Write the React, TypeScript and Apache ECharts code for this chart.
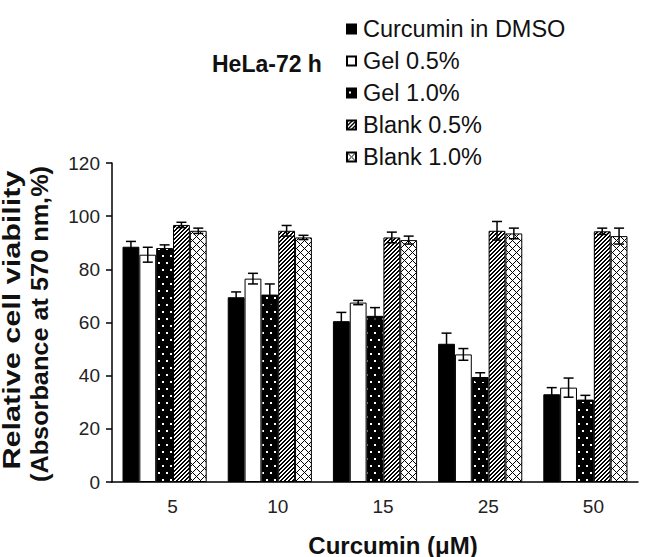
import React, { useEffect, useRef } from "react";
import * as echarts from "echarts";

const categories = ["5", "10", "15", "25", "50"];
const seriesNames = ["Curcumin in DMSO", "Gel 0.5%", "Gel 1.0%", "Blank 0.5%", "Blank 1.0%"];
const dmso = [88.5, 69.5, 60.5, 52, 33];
const dmsoErr = [2, 2, 3.3, 4, 2.5];
const gel05 = [85.5, 76.5, 67.5, 48, 35.5];
const gel05Err = [2.8, 2, 0.8, 2.2, 3.6];
const gel10 = [88, 70.5, 62.5, 39.5, 31];
const gel10Err = [1.2, 4, 3.1, 1.6, 1.6];
const blank05 = [96.7, 94.5, 92, 94.5, 94.3];
const blank05Err = [1, 2, 2, 3.5, 1.2];
const blank10 = [94.5, 92, 91, 93.5, 92.5];
const blank10Err = [1, 0.8, 1.5, 2, 3];
const yTicks = [0, 20, 40, 60, 80, 100, 120];

function makeTile(w: number, h: number, bg: string, fg: string, test: (x: number, y: number) => boolean) {
  const c = document.createElement("canvas");
  c.width = w;
  c.height = h;
  const ctx = c.getContext("2d")!;
  ctx.fillStyle = bg;
  ctx.fillRect(0, 0, w, h);
  ctx.fillStyle = fg;
  for (let x = 0; x < w; x++) {
    for (let y = 0; y < h; y++) {
      if (test(x, y)) ctx.fillRect(x, y, 1, 1);
    }
  }
  return { image: c, repeat: "repeat", imageWidth: w, imageHeight: h } as any;
}

export default function App() {
  const ref = useRef<HTMLDivElement>(null);
  useEffect(() => {
    document.body.style.margin = "0";
    const chart = echarts.init(ref.current!, null, { renderer: "svg" });
    const dots = makeTile(8, 14, "#000", "#fff", (x, y) =>
      ((x === 2 || x === 3) && (y === 3 || y === 4)) || ((x === 6 || x === 7) && (y === 10 || y === 11))
    );
    const hatch = makeTile(4, 4, "#fff", "#000", (x, y) => (x + y) % 4 < 2);
    const cross = makeTile(8, 8, "#fff", "#000", (x, y) => (x + y) % 8 === 0 || (x - y + 8) % 8 === 0);
    const fills: any[] = ["#000", "#fff", dots, hatch, cross];
    const vals = [dmso, gel05, gel10, blank05, blank10];
    const errs = [dmsoErr, gel05Err, gel10Err, blank05Err, blank10Err];

    const barSeries = seriesNames.map((name, k) => ({
      name,
      type: "bar",
      data: vals[k],
      barGap: "0%",
      barCategoryGap: "20%",
      itemStyle: { color: fills[k], borderColor: "#000", borderWidth: 1 },
    }));

    const errData: number[][] = [];
    vals.forEach((arr, k) => arr.forEach((v, i) => errData.push([i, v, errs[k][i], k])));

    const option: any = {
      animation: false,
      title: {
        text: "HeLa-72 h",
        left: 207,
        top: 47,
        textStyle: { fontFamily: "Liberation Sans", fontWeight: "bold", fontSize: 23, color: "#111" },
      },
      legend: {
        data: seriesNames,
        orient: "vertical",
        left: 341,
        top: 12,
        itemWidth: 9,
        itemHeight: 9,
        itemGap: 8,
        icon: "rect",
        textStyle: { fontFamily: "Liberation Sans", fontSize: 23.5, color: "#111", padding: [0, 0, 0, 2] },
      },
      grid: { left: 112, right: 16, top: 163, bottom: 75, containLabel: false },
      xAxis: {
        type: "category",
        data: categories,
        axisLine: { lineStyle: { color: "#000", width: 1.5 } },
        axisTick: { length: 6, lineStyle: { color: "#000", width: 1.5 } },
        axisLabel: {
          fontFamily: "Liberation Sans",
          fontSize: 19,
          color: "#222",
          margin: 15,
          padding: [0, 0, 0, 16],
        },
      },
      yAxis: {
        type: "value",
        min: 0,
        max: 120,
        interval: 20,
        splitLine: { show: false },
        axisLine: { show: true, lineStyle: { color: "#000", width: 1.5 } },
        axisTick: { show: true, length: 6, lineStyle: { color: "#000", width: 1.5 } },
        axisLabel: {
          fontFamily: "Liberation Sans",
          fontSize: 19,
          color: "#222",
          margin: 12,
          formatter: (v: number) => (yTicks.includes(v) ? String(v) : ""),
        },
      },
      graphic: [
        {
          type: "text",
          x: 12,
          y: 320,
          rotation: Math.PI / 2,
          scaleX: 1.33,
          style: {
            text: "Relative cell viability",
            font: "bold 23px 'Liberation Sans'",
            fill: "#111",
            textAlign: "center",
            textVerticalAlign: "middle",
          },
        },
        {
          type: "text",
          x: 40,
          y: 324,
          rotation: Math.PI / 2,
          scaleX: 1.1,
          style: {
            text: "(Absorbance at 570 nm,%)",
            font: "bold 23px 'Liberation Sans'",
            fill: "#111",
            textAlign: "center",
            textVerticalAlign: "middle",
          },
        },
        {
          type: "text",
          x: 393,
          y: 545,
          style: {
            text: "Curcumin (μM)",
            font: "bold 24px 'Liberation Sans'",
            fill: "#111",
            textAlign: "center",
            textVerticalAlign: "middle",
          },
        },
      ],
      series: [
        ...barSeries,
        {
          type: "custom",
          name: "err",
          data: errData,
          z: 10,
          renderItem: (params: any, api: any) => {
            const x = api.value(0);
            const v = api.value(1);
            const e = api.value(2);
            const k = api.value(3);
            const band = api.size([1, 0])[0];
            const bw = band * 0.16;
            const c = api.coord([x, v]);
            const cx = c[0] + (k - 2) * bw;
            const top = api.coord([x, v + e])[1];
            const bot = api.coord([x, v - e])[1];
            const hw = 5;
            const st = { stroke: "#000", lineWidth: 1.5 };
            return {
              type: "group",
              children: [
                { type: "line", shape: { x1: cx, y1: top, x2: cx, y2: bot }, style: st },
                { type: "line", shape: { x1: cx - hw, y1: top, x2: cx + hw, y2: top }, style: st },
                { type: "line", shape: { x1: cx - hw, y1: bot, x2: cx + hw, y2: bot }, style: st },
              ],
            };
          },
        },
      ],
    };
    chart.setOption(option);
    return () => chart.dispose();
  }, []);
  return <div ref={ref} style={{ width: 654, height: 557 }} />;
}
